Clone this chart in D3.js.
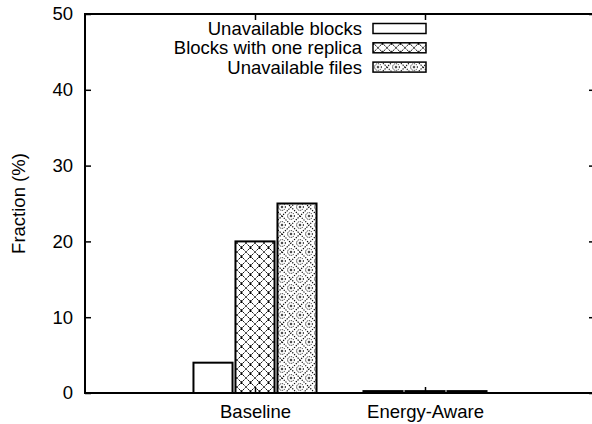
<!DOCTYPE html>
<html lang="en">
<head>
  <meta charset="UTF-8">
  <title>Unavailability fractions</title>
  <style>
body { margin: 0; background: #fff; }
svg text { font-family: "Liberation Sans", Arial, Helvetica, sans-serif; fill: #000; }
  </style>
</head>
<body>
  <div id="chart"></div>
  <script src="https://d3js.org/d3.v7.min.js"></script>
  <script>
// data
const categories = ["Baseline", "Energy-Aware"];
const seriesNames = ["Unavailable blocks", "Blocks with one replica", "Unavailable files"];
const unavailableBlocks = [4, 0.25];
const oneReplica = [20, 0.25];
const unavailableFiles = [25, 0.25];
const yTicks = [0, 10, 20, 30, 40, 50];

const width = 592, height = 424;
const plotLeft = 85, plotRight = 595, plotTop = 14, plotBottom = 393;
const fontSize = 18.5;

const seriesValues = [unavailableBlocks, oneReplica, unavailableFiles];
const fills = ["#fff", "url(#hatchX)", "url(#hatchDiamond)"];

const svg = d3.select("#chart").append("svg")
  .attr("width", width)
  .attr("height", height);

// fill patterns, rough copies of the gnuplot ones
const defs = svg.append("defs");

const pX = defs.append("pattern")
  .attr("id", "hatchX")
  .attr("patternUnits", "userSpaceOnUse")
  .attr("width", 9).attr("height", 9);
pX.append("rect").attr("width", 9).attr("height", 9).attr("fill", "#fff");
pX.append("path")
  .attr("d", "M0,0L9,9M9,0L0,9")
  .attr("stroke", "#000")
  .attr("stroke-width", 0.9)
  .attr("stroke-dasharray", "2.2,1")
  .attr("stroke-dashoffset", 1.1)
  .attr("fill", "none");
// darker crossings
pX.append("path")
  .attr("d", "M3.5,3.5L5.5,5.5M5.5,3.5L3.5,5.5")
  .attr("stroke", "#000")
  .attr("stroke-width", 1.1);

const pD = defs.append("pattern")
  .attr("id", "hatchDiamond")
  .attr("patternUnits", "userSpaceOnUse")
  .attr("width", 18).attr("height", 18);
pD.append("rect").attr("width", 18).attr("height", 18).attr("fill", "#fff");
pD.append("path")
  .attr("d", "M9,0L18,9L9,18L0,9Z")
  .attr("stroke", "#000")
  .attr("stroke-width", 1.1)
  .attr("stroke-dasharray", "1.3,1.2")
  .attr("fill", "none");
[[9, 9], [0, 0], [18, 0], [0, 18], [18, 18]].forEach(([cx, cy]) => {
  pD.append("circle")
    .attr("cx", cx).attr("cy", cy).attr("r", 3.4)
    .attr("stroke", "#000")
    .attr("stroke-width", 1)
    .attr("stroke-dasharray", "1.1,1.1")
    .attr("fill", "none");
  pD.append("path")
    .attr("d", `M${cx - 1.2},${cy}h2.4M${cx},${cy - 1.2}v2.4`)
    .attr("stroke", "#000")
    .attr("stroke-width", 0.9);
});

// scales
const x = d3.scaleLinear().domain([-1, 2]).range([plotLeft, plotRight]);
const y = d3.scaleLinear().domain([0, 50]).range([plotBottom, plotTop]);
const xSub = d3.scaleBand()
  .domain(seriesNames)
  .range([-63, 63])
  .paddingInner(0.07)
  .paddingOuter(0.035);

// bars
const groups = svg.append("g")
  .selectAll("g")
  .data(categories)
  .join("g")
  .attr("transform", (d, i) => `translate(${x(i)},0)`);

groups.selectAll("rect")
  .data((d, i) => seriesNames.map((s, j) => ({ s, j, v: seriesValues[j][i] })))
  .join("rect")
  .attr("x", d => xSub(d.s))
  .attr("width", xSub.bandwidth())
  .attr("y", d => y(d.v))
  .attr("height", d => y(0) - y(d.v))
  .attr("fill", d => fills[d.j])
  .attr("stroke", "#000")
  .attr("stroke-width", 2);

// axes, gnuplot style ticks pointing inwards and mirrored
function styleAxis(g) {
  g.select(".domain").remove();
  g.selectAll("line").attr("stroke", "#000").attr("stroke-width", 1.5);
  g.selectAll("text").style("font-size", fontSize + "px").attr("font-family", null);
}

svg.append("g")
  .attr("transform", `translate(${plotLeft},0)`)
  .call(d3.axisLeft(y).tickValues(yTicks).tickSize(-6).tickPadding(12))
  .call(styleAxis);

svg.append("g")
  .attr("transform", `translate(${plotRight},0)`)
  .call(d3.axisRight(y).tickValues(yTicks).tickSize(-6).tickFormat(""))
  .call(styleAxis);

svg.append("g")
  .attr("transform", `translate(0,${plotBottom})`)
  .call(d3.axisBottom(x).tickValues([0, 1]).tickSize(-6).tickPadding(12)
    .tickFormat(i => categories[i]))
  .call(styleAxis);

svg.append("g")
  .attr("transform", `translate(0,${plotTop})`)
  .call(d3.axisTop(x).tickValues([0, 1]).tickSize(-6).tickFormat(""))
  .call(styleAxis);

// frame
svg.append("rect")
  .attr("x", plotLeft).attr("y", plotTop)
  .attr("width", plotRight - plotLeft).attr("height", plotBottom - plotTop)
  .attr("fill", "none")
  .attr("stroke", "#000")
  .attr("stroke-width", 2);

// y label
svg.append("text")
  .attr("transform", `translate(25,${(plotTop + plotBottom) / 2}) rotate(-90)`)
  .attr("text-anchor", "middle")
  .style("font-size", fontSize + "px")
  .text("Fraction (%)");

// legend
const legend = svg.append("g")
  .selectAll("g")
  .data(seriesNames)
  .join("g")
  .attr("transform", (d, i) => `translate(0,${28.5 + i * 19.3})`);

legend.append("text")
  .attr("x", 362)
  .attr("dy", "0.35em")
  .attr("text-anchor", "end")
  .style("font-size", fontSize + "px")
  .text(d => d);

legend.append("rect")
  .attr("x", 373)
  .attr("y", -5)
  .attr("width", 53)
  .attr("height", 10)
  .attr("fill", (d, i) => fills[i])
  .attr("stroke", "#000")
  .attr("stroke-width", 1.5);
  </script>
</body>
</html>
